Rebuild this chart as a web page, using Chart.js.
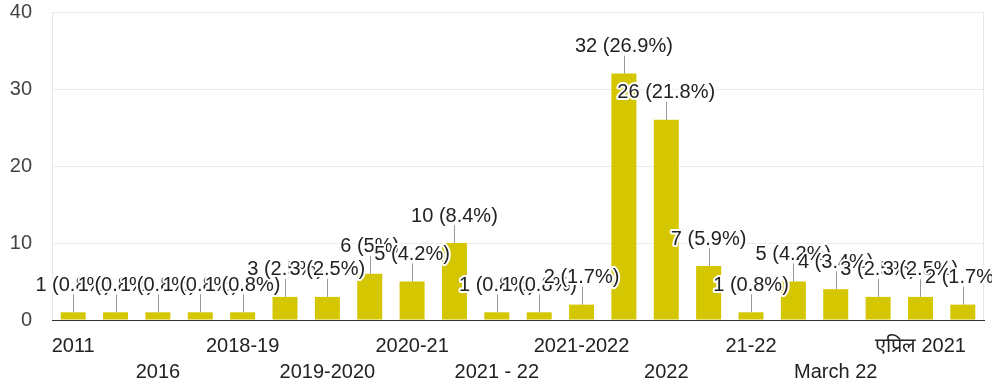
<!DOCTYPE html>
<html lang="en">
<head>
    <meta charset="UTF-8" />
    <title>Bar chart</title>
    <script src="https://cdn.jsdelivr.net/npm/chart.js"></script>
    <style>
        html, body { margin: 0; padding: 0; background: #fff; }
        #wrap { width: 992px; height: 388px; }
    </style>
</head>
<body>
    <div id="wrap"><canvas id="chart" width="992" height="388"></canvas></div>

    <script>
        // Data
        const categories = ['2011', '2015', '2016', '2017', '2018-19', '2019', '2019-2020', '2020',
            '2020-21', '2021', '2021 - 22', '2021 -22', '2021-2022', '2021-22', '2022', '2022-23',
            '21-22', 'April 2022', 'March 22', 'March 2022', 'एप्रिल 2021', 'मार्च 2022'];
        const counts = [1, 1, 1, 1, 1, 3, 3, 6, 5, 10, 1, 1, 2, 32, 26, 7, 1, 5, 4, 3, 3, 2];
        const yTicks = [0, 10, 20, 30, 40];

        const total = counts.reduce((a, b) => a + b, 0);
        const FONT = 'Arial, "Liberation Sans", sans-serif';

        // Labels above bars with a small leader line
        const barLabels = {
            id: 'barLabels',
            beforeDatasetsDraw(chart) {
                const { ctx, chartArea } = chart;
                ctx.save();
                ctx.strokeStyle = '#e6e6e6';
                ctx.lineWidth = 1;
                ctx.beginPath();
                ctx.moveTo(chartArea.left + 0.5, chartArea.top);
                ctx.lineTo(chartArea.left + 0.5, chartArea.bottom);
                ctx.moveTo(chartArea.right - 0.5, chartArea.top);
                ctx.lineTo(chartArea.right - 0.5, chartArea.bottom);
                ctx.stroke();
                ctx.restore();
            },
            afterDatasetsDraw(chart) {
                const { ctx } = chart;
                const meta = chart.getDatasetMeta(0);
                ctx.save();
                ctx.font = '20px ' + FONT;
                ctx.textAlign = 'center';
                ctx.textBaseline = 'middle';
                meta.data.forEach((bar, i) => {
                    const v = counts[i];
                    const pct = Math.round(v / total * 1000) / 10;
                    const text = v + ' (' + pct + '%)';
                    ctx.strokeStyle = '#999';
                    ctx.lineWidth = 1;
                    ctx.beginPath();
                    ctx.moveTo(Math.round(bar.x) + 0.5, bar.y);
                    ctx.lineTo(Math.round(bar.x) + 0.5, bar.y - 18);
                    ctx.stroke();
                    ctx.lineWidth = 4;
                    ctx.lineJoin = 'round';
                    ctx.strokeStyle = '#fff';
                    ctx.strokeText(text, bar.x, bar.y - 27);
                    ctx.fillStyle = '#222';
                    ctx.fillText(text, bar.x, bar.y - 27);
                });
                ctx.restore();
            }
        };

        new Chart(document.getElementById('chart'), {
            type: 'bar',
            data: {
                labels: categories,
                datasets: [{
                    data: counts,
                    backgroundColor: '#d4c600',
                    barPercentage: 0.59,
                    categoryPercentage: 1
                }]
            },
            options: {
                responsive: false,
                animation: false,
                layout: { padding: { top: 1, right: 8, left: 0, bottom: 0 } },
                plugins: {
                    legend: { display: false },
                    tooltip: { enabled: false }
                },
                scales: {
                    x: {
                        grid: { display: false, drawTicks: false },
                        border: { color: '#333', width: 1 },
                        ticks: {
                            autoSkip: false,
                            maxRotation: 0,
                            padding: 13,
                            color: '#222',
                            font: { family: FONT, size: 20, lineHeight: 1.3 },
                            callback: (value, index) => {
                                if (index % 2 === 1) return '';
                                return index % 4 === 0 ? categories[index] : ['', categories[index]];
                            }
                        },
                        afterFit: (scale) => { scale.height = 68; }
                    },
                    y: {
                        min: 0,
                        max: 40,
                        afterBuildTicks: (scale) => { scale.ticks = yTicks.map(v => ({ value: v })); },
                        grid: {
                            drawTicks: true,
                            tickLength: 20,
                            tickColor: 'rgba(0,0,0,0)',
                            color: (c) => c.tick && c.tick.value === 0 ? '#333' : '#ebebeb'
                        },
                        border: { display: false },
                        ticks: {
                            padding: 0,
                            color: '#444',
                            font: { family: FONT, size: 20 }
                        },
                        afterFit: (scale) => { scale.width = 52; }
                    }
                }
            },
            plugins: [barLabels]
        });
    </script>
</body>
</html>
